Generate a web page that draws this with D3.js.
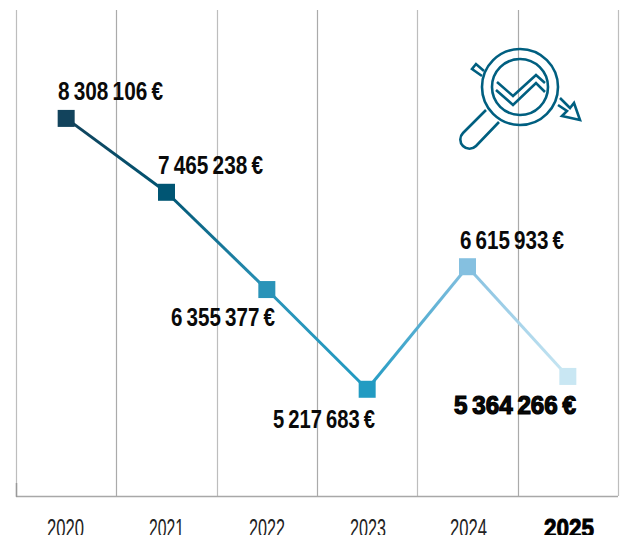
<!DOCTYPE html>
<html><head><meta charset="utf-8">
<script src="https://cdn.jsdelivr.net/npm/d3@7"></script>
<style>html,body{margin:0;padding:0;background:#fff;overflow:hidden}svg{display:block}</style></head>
<body><svg id="c" width="622" height="535"></svg>
<script>
const years=["2020","2021","2022","2023","2024","2025"];
const values=[8308106,7465238,6355377,5217683,6615933,5364266];
const labels=["8 308 106 €","7 465 238 €","6 355 377 €","5 217 683 €","6 615 933 €","5 364 266 €"];
const colors=["#12435c","#005573","#2a93b8","#229bc2","#85c0e0","#c9e7f3"];
const labelPos=[[58,100,105],[158,174,105],[171,326,104],[273,428,102],[460,249,104],[454,414,122]];
const yearPos=[[47,37],[149,35],[249,36],[350,36],[450,37],[544,50]];
const svg=d3.select("#c");
const x=d3.scaleBand().domain(years).range([16,618]);
const y=d3.scaleLinear().domain([4000000,9545000]).range([496,10]);
const cx=d=>x(d)+x.bandwidth()/2;
const gridX=[...years.map(d=>x(d)),618];
svg.append("g").selectAll("line").data(gridX).join("line").attr("x1",d=>Math.round(d)+.5).attr("x2",d=>Math.round(d)+.5).attr("y1",10).attr("y2",496).attr("stroke",(d,i)=>i%2?"#aaaaaa":"#bdbdbd").attr("stroke-width",1.2);
svg.append("line").attr("x1",16).attr("x2",618).attr("y1",496.5).attr("y2",496.5).attr("stroke","#a8a8a8").attr("stroke-width",1.3);
svg.append("line").attr("x1",16.5).attr("x2",16.5).attr("y1",483).attr("y2",497).attr("stroke","#999").attr("stroke-width",1.5);
const defs=svg.append("defs");
years.slice(0,-1).forEach((yr,i)=>{
 const g=defs.append("linearGradient").attr("id","g"+i).attr("gradientUnits","userSpaceOnUse")
  .attr("x1",cx(yr)).attr("x2",cx(years[i+1])).attr("y1",y(values[i])).attr("y2",y(values[i+1]));
 g.append("stop").attr("offset",0).attr("stop-color",colors[i]);
 g.append("stop").attr("offset",1).attr("stop-color",colors[i+1]);
 svg.append("line").attr("x1",cx(yr)).attr("x2",cx(years[i+1])).attr("y1",y(values[i])).attr("y2",y(values[i+1])).attr("stroke",`url(#g${i})`).attr("stroke-width",3);
});
svg.selectAll("rect.m").data(years).join("rect").attr("class","m").attr("x",d=>cx(d)-8.5).attr("y",(d,i)=>y(values[i])-8.5).attr("width",17).attr("height",17).attr("fill",(d,i)=>colors[i]);
const font="'Liberation Sans',sans-serif";
svg.selectAll("text.v").data(labels).join("text").attr("class","v").text(d=>d)
 .attr("x",(d,i)=>labelPos[i][0]).attr("y",(d,i)=>labelPos[i][1])
 .attr("textLength",(d,i)=>labelPos[i][2]).attr("lengthAdjust","spacingAndGlyphs")
 .attr("font-family",font).attr("font-weight","bold").attr("font-size",(d,i)=>i==5?25:26)
 .attr("word-spacing",-2).attr("stroke",(d,i)=>i==5?"#000":"none").attr("stroke-width",1.2).attr("fill","#0a0a0a");
svg.selectAll("text.y").data(years).join("text").attr("class","y").text(d=>d)
 .attr("x",(d,i)=>yearPos[i][0]).attr("y",537).attr("textLength",(d,i)=>yearPos[i][1]).attr("lengthAdjust","spacingAndGlyphs")
 .attr("font-family",font).attr("font-size",26).attr("font-weight",(d,i)=>i==5?"bold":"normal")
 .attr("stroke",(d,i)=>i==5?"#000":"none").attr("stroke-width",1).attr("fill",(d,i)=>i==5?"#000":"#222");
const ic=svg.append("g").attr("fill","none").attr("stroke","#005f80").attr("stroke-width",2.6).attr("stroke-linejoin","miter");
ic.append("circle").attr("cx",520).attr("cy",87).attr("r",38);
ic.append("circle").attr("cx",520).attr("cy",87).attr("r",28);
ic.append("path").attr("d","M486 110 L463 133 A9 9 0 0 0 476 146 L499 122");
ic.append("path").attr("d","M497 82 L513 96 L536 75 L545 83");
ic.append("path").attr("d","M496 90 L513 105 L536 83 L545 92");
ic.append("path").attr("d","M482 76 L472 69 L476 64 L484 71");
ic.append("path").attr("d","M560 98 L570 108 L574 103 L580 120 L562 116 L567 111 L558 105");
</script></body></html>
